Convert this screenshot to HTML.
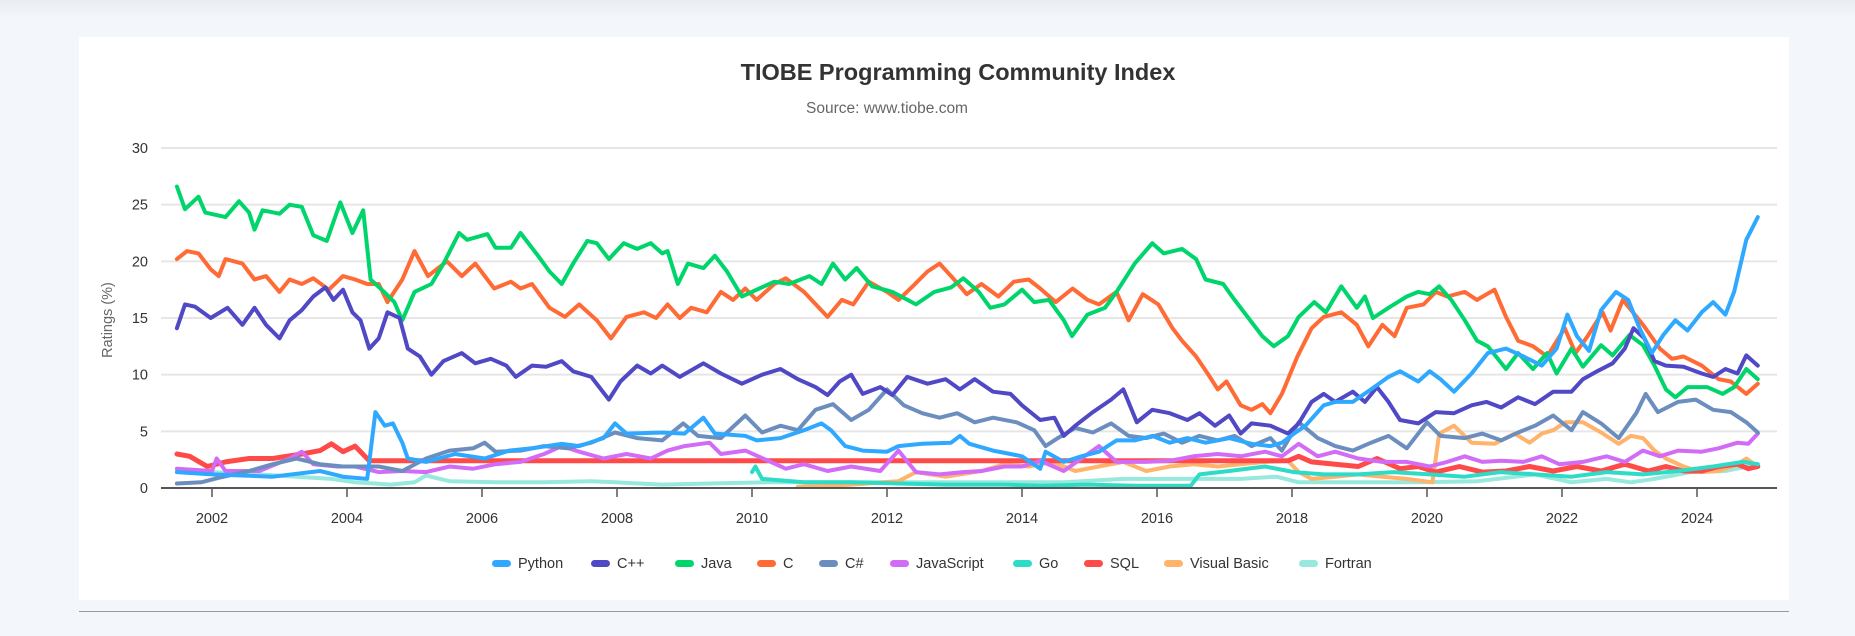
<!DOCTYPE html>
<html><head><meta charset="utf-8"><style>
html,body{margin:0;padding:0;width:1855px;height:636px;overflow:hidden;background:#f3f6fa;font-family:"Liberation Sans",sans-serif}
.card{position:absolute;left:79px;top:37px;width:1710px;height:563px;background:#fff}
.topshade{position:absolute;left:0;top:0;width:1855px;height:18px;background:linear-gradient(#e9edf2,#f3f6fa)}
.rule{position:absolute;left:79px;top:611px;width:1710px;height:1px;background:#9a9a9a}
</style></head><body>
<div class="topshade"></div>
<div class="card"></div>
<div class="rule"></div>
<svg id="chart" width="1855" height="636" style="position:absolute;left:0;top:0">
<text x="958" y="80" text-anchor="middle" font-size="23.5" font-weight="bold" fill="#333">TIOBE Programming Community Index</text>
<text x="887" y="113" text-anchor="middle" font-size="15.5" fill="#666">Source: www.tiobe.com</text>
<text transform="translate(112,320) rotate(-90)" text-anchor="middle" font-size="14.5" fill="#666">Ratings (%)</text>
<g id="grid"></g><g id="series"></g><g id="axes"></g><g id="legend"></g>
</svg>
<script>
const yTicks=[0,5,10,15,20,25,30];
const xTicks=[2002,2004,2006,2008,2010,2012,2014,2016,2018,2020,2022,2024];
const names=["Python","C++","Java","C","C#","JavaScript","Go","SQL","Visual Basic","Fortran"];
const colors=["#2ea9ff","#5048c4","#00d56b","#ff6a35","#6c8ebf","#d26cf7","#2edbc6","#ff4a4a","#ffb36b","#97e8dd"];
const pythonYears=[2001.48,2002.0,2002.9,2003.6,2003.94,2004.3,2004.42,2004.56,2004.68,2004.82,2004.9,2005.17,2005.6,2006.04,2006.4,2006.74,2007.18,2007.44,2007.8,2007.97,2008.14,2008.67,2009.0,2009.28,2009.45,2009.9,2010.07,2010.42,2010.77,2011.03,2011.17,2011.38,2011.64,2012.0,2012.17,2012.52,2012.95,2013.08,2013.22,2013.57,2013.83,2014.0,2014.27,2014.35,2014.62,2014.88,2015.14,2015.4,2015.67,2015.93,2016.19,2016.45,2016.72,2017.07,2017.4,2017.68,2017.85,2018.03,2018.2,2018.47,2018.64,2018.9,2019.17,2019.43,2019.6,2019.87,2020.04,2020.2,2020.4,2020.66,2020.9,2021.17,2021.43,2021.7,2021.92,2022.08,2022.22,2022.4,2022.58,2022.8,2022.98,2023.15,2023.33,2023.5,2023.68,2023.86,2024.07,2024.24,2024.42,2024.55,2024.73,2024.9];
const pythonValues=[1.4,1.2,1.0,1.5,1.0,0.8,6.7,5.5,5.7,4.0,2.6,2.3,3.0,2.6,3.3,3.5,3.9,3.7,4.4,5.7,4.8,4.9,4.8,6.2,4.8,4.6,4.2,4.4,5.1,5.7,5.1,3.7,3.3,3.2,3.7,3.9,4.0,4.6,3.9,3.3,3.0,2.8,1.7,3.2,2.3,2.8,3.2,4.2,4.2,4.6,4.0,4.4,4.0,4.4,3.9,3.7,4.0,4.8,5.5,7.3,7.6,7.6,8.7,9.8,10.3,9.4,10.3,9.6,8.5,10.1,11.9,12.3,11.6,10.8,12.3,15.3,13.4,12.1,15.7,17.3,16.6,14.1,11.9,13.5,14.8,13.9,15.5,16.4,15.3,17.3,21.9,23.9];
const cppYears=[2001.48,2001.6,2001.75,2001.98,2002.23,2002.45,2002.63,2002.8,2003.0,2003.15,2003.33,2003.5,2003.68,2003.8,2003.94,2004.08,2004.2,2004.33,2004.47,2004.6,2004.78,2004.9,2005.08,2005.25,2005.43,2005.7,2005.9,2006.13,2006.36,2006.5,2006.74,2006.95,2007.18,2007.35,2007.62,2007.88,2008.05,2008.3,2008.5,2008.67,2008.93,2009.28,2009.54,2009.85,2010.15,2010.42,2010.68,2010.94,2011.12,2011.3,2011.47,2011.64,2011.9,2012.08,2012.3,2012.6,2012.87,2013.08,2013.3,2013.57,2013.83,2014.0,2014.27,2014.48,2014.62,2014.79,2015.05,2015.32,2015.5,2015.7,2015.93,2016.19,2016.45,2016.63,2016.86,2017.07,2017.24,2017.4,2017.68,2017.94,2018.1,2018.29,2018.47,2018.64,2018.9,2019.08,2019.26,2019.43,2019.6,2019.87,2020.13,2020.4,2020.66,2020.88,2021.1,2021.35,2021.6,2021.87,2022.14,2022.31,2022.52,2022.75,2022.93,2023.06,2023.22,2023.37,2023.54,2023.8,2024.07,2024.24,2024.42,2024.6,2024.73,2024.9];
const cppValues=[14.1,16.2,16.0,15.0,15.9,14.4,15.9,14.4,13.2,14.8,15.7,16.9,17.7,16.6,17.5,15.5,14.8,12.3,13.2,15.5,15.0,12.3,11.6,10.0,11.2,11.9,11.0,11.4,10.8,9.8,10.8,10.7,11.2,10.3,9.8,7.8,9.4,10.8,10.1,10.8,9.8,11.0,10.1,9.2,10.0,10.5,9.6,8.9,8.2,9.4,10.0,8.3,8.9,8.2,9.8,9.2,9.6,8.7,9.6,8.5,8.3,7.3,6.0,6.2,4.6,5.5,6.7,7.8,8.7,5.8,6.9,6.6,6.0,6.6,5.5,6.4,4.8,5.7,5.5,4.8,5.7,7.6,8.3,7.6,8.5,7.6,8.9,7.6,6.0,5.7,6.7,6.6,7.3,7.6,7.1,8.0,7.4,8.5,8.5,9.6,10.3,11.0,12.3,14.1,13.2,11.2,10.8,10.7,10.1,9.8,10.5,10.1,11.7,10.8];
const javaYears=[2001.48,2001.6,2001.8,2001.9,2002.2,2002.4,2002.55,2002.63,2002.75,2003.0,2003.15,2003.33,2003.5,2003.7,2003.9,2004.08,2004.24,2004.35,2004.55,2004.7,2004.82,2005.0,2005.25,2005.43,2005.66,2005.78,2006.08,2006.2,2006.43,2006.57,2006.83,2007.0,2007.18,2007.35,2007.56,2007.7,2007.88,2008.1,2008.3,2008.5,2008.67,2008.75,2008.9,2009.05,2009.28,2009.45,2009.63,2009.85,2010.07,2010.33,2010.55,2010.85,2011.03,2011.2,2011.38,2011.55,2011.78,2012.08,2012.43,2012.7,2012.95,2013.13,2013.36,2013.53,2013.74,2014.0,2014.18,2014.4,2014.62,2014.74,2014.97,2015.23,2015.4,2015.67,2015.93,2016.1,2016.37,2016.58,2016.72,2016.98,2017.15,2017.38,2017.56,2017.73,2017.94,2018.1,2018.33,2018.5,2018.73,2018.96,2019.08,2019.2,2019.43,2019.7,2019.87,2020.04,2020.18,2020.36,2020.56,2020.74,2020.9,2021.17,2021.35,2021.57,2021.78,2021.92,2022.14,2022.31,2022.58,2022.75,2023.0,2023.2,2023.37,2023.54,2023.68,2023.86,2024.15,2024.38,2024.55,2024.73,2024.9];
const javaValues=[26.6,24.6,25.7,24.3,23.9,25.3,24.3,22.8,24.5,24.2,25.0,24.8,22.3,21.8,25.2,22.5,24.5,18.4,17.3,16.4,14.8,17.3,18.0,19.8,22.5,21.9,22.4,21.2,21.2,22.5,20.5,19.1,18.0,19.8,21.8,21.6,20.2,21.6,21.1,21.6,20.7,20.9,18.0,19.8,19.4,20.5,19.1,16.9,17.5,18.2,18.0,18.7,18.0,19.8,18.4,19.4,17.8,17.3,16.2,17.3,17.7,18.5,17.3,15.9,16.2,17.5,16.4,16.6,14.8,13.4,15.3,15.9,17.3,19.8,21.6,20.7,21.1,20.2,18.4,18.0,16.6,14.8,13.4,12.5,13.4,15.1,16.4,15.5,17.8,15.9,16.9,15.0,15.9,16.9,17.3,17.1,17.8,16.6,14.8,13.0,12.5,10.5,11.9,10.5,11.9,10.1,12.3,10.7,12.6,11.7,13.5,12.6,10.8,8.7,8.0,8.9,8.9,8.3,8.9,10.5,9.6];
const cYears=[2001.48,2001.63,2001.8,2001.98,2002.1,2002.2,2002.45,2002.63,2002.8,2003.0,2003.15,2003.33,2003.5,2003.73,2003.94,2004.12,2004.3,2004.47,2004.6,2004.82,2005.0,2005.2,2005.48,2005.7,2005.9,2006.18,2006.43,2006.57,2006.74,2007.0,2007.23,2007.44,2007.7,2007.91,2008.14,2008.4,2008.58,2008.75,2008.93,2009.1,2009.33,2009.54,2009.72,2009.9,2010.07,2010.33,2010.5,2010.77,2011.12,2011.33,2011.5,2011.73,2012.0,2012.17,2012.38,2012.6,2012.78,2012.95,2013.18,2013.4,2013.65,2013.88,2014.1,2014.27,2014.5,2014.75,2014.97,2015.14,2015.4,2015.58,2015.79,2016.02,2016.23,2016.37,2016.58,2016.75,2016.9,2017.03,2017.24,2017.4,2017.56,2017.68,2017.85,2018.08,2018.29,2018.47,2018.73,2018.96,2019.13,2019.34,2019.52,2019.7,2019.95,2020.13,2020.3,2020.56,2020.74,2021.0,2021.17,2021.35,2021.57,2021.78,2022.04,2022.2,2022.38,2022.6,2022.72,2022.9,2023.2,2023.45,2023.63,2023.8,2024.07,2024.32,2024.5,2024.73,2024.9];
const cValues=[20.2,20.9,20.7,19.3,18.7,20.2,19.8,18.4,18.7,17.3,18.4,18.0,18.5,17.5,18.7,18.4,18.0,18.0,16.4,18.4,20.9,18.7,20.0,18.7,19.8,17.6,18.2,17.6,18.0,15.9,15.1,16.2,14.8,13.2,15.1,15.5,15.0,16.2,15.0,15.9,15.5,17.3,16.6,17.6,16.6,18.0,18.5,17.3,15.1,16.6,16.2,18.2,17.3,16.6,17.8,19.1,19.8,18.7,17.1,18.0,16.9,18.2,18.4,17.6,16.4,17.6,16.6,16.2,17.3,14.8,17.1,16.2,14.1,13.0,11.6,10.1,8.7,9.4,7.3,6.9,7.4,6.6,8.3,11.6,14.1,15.1,15.5,14.4,12.5,14.4,13.4,15.9,16.2,17.3,16.9,17.3,16.6,17.5,15.1,13.0,12.5,11.6,14.1,11.9,13.4,15.5,13.9,16.6,14.4,12.3,11.4,11.6,10.8,9.6,9.4,8.3,9.2];
const csharpYears=[2001.48,2001.84,2002.1,2002.55,2002.9,2003.25,2003.6,2003.94,2004.47,2004.82,2005.17,2005.52,2005.87,2006.04,2006.2,2006.57,2006.92,2007.27,2007.62,2007.97,2008.3,2008.67,2008.98,2009.2,2009.54,2009.9,2010.15,2010.42,2010.68,2010.94,2011.2,2011.47,2011.73,2012.0,2012.25,2012.52,2012.78,2013.04,2013.3,2013.57,2013.92,2014.18,2014.35,2014.53,2014.79,2015.05,2015.32,2015.58,2015.84,2016.1,2016.37,2016.63,2016.9,2017.15,2017.4,2017.68,2017.85,2018.1,2018.38,2018.64,2018.9,2019.17,2019.43,2019.7,2020.0,2020.2,2020.56,2020.82,2021.1,2021.35,2021.6,2021.87,2022.14,2022.31,2022.58,2022.84,2023.1,2023.24,2023.42,2023.72,2023.98,2024.24,2024.5,2024.73,2024.9];
const csharpValues=[0.4,0.5,0.9,1.5,2.1,2.6,2.1,1.9,1.9,1.5,2.6,3.3,3.5,4.0,3.2,3.3,3.7,3.5,4.0,4.9,4.4,4.2,5.7,4.6,4.4,6.4,4.9,5.5,5.1,6.9,7.4,6.0,6.9,8.7,7.3,6.6,6.2,6.6,5.8,6.2,5.8,5.1,3.7,4.4,5.3,4.9,5.7,4.6,4.4,4.8,4.0,4.6,4.2,4.6,3.7,4.4,3.3,5.8,4.4,3.7,3.3,4.0,4.6,3.5,5.8,4.6,4.4,4.8,4.2,4.9,5.5,6.4,5.1,6.7,5.7,4.4,6.6,8.3,6.7,7.6,7.8,6.9,6.7,5.8,4.9];
const jsYears=[2001.48,2002.0,2002.07,2002.2,2002.7,2003.15,2003.33,2003.5,2003.85,2004.12,2004.47,2004.82,2005.17,2005.52,2005.87,2006.2,2006.57,2006.92,2007.18,2007.44,2007.8,2008.14,2008.5,2008.75,2009.0,2009.37,2009.54,2009.9,2010.24,2010.5,2010.77,2011.12,2011.47,2011.9,2012.17,2012.43,2012.78,2013.13,2013.4,2013.74,2014.0,2014.27,2014.62,2014.88,2015.14,2015.4,2015.84,2016.19,2016.54,2016.9,2017.24,2017.6,2017.85,2018.1,2018.38,2018.64,2018.98,2019.34,2019.7,2020.04,2020.3,2020.56,2020.82,2021.1,2021.43,2021.7,2021.96,2022.31,2022.66,2022.93,2023.2,2023.45,2023.72,2024.07,2024.32,2024.6,2024.76,2024.9];
const jsValues=[1.7,1.5,2.6,1.5,1.5,2.6,3.2,2.1,1.9,1.9,1.4,1.5,1.4,1.9,1.7,2.1,2.3,3.0,3.7,3.2,2.6,3.0,2.6,3.3,3.7,4.0,3.0,3.3,2.4,1.7,2.1,1.5,1.9,1.5,3.3,1.4,1.2,1.4,1.5,1.9,1.9,2.4,1.5,2.6,3.7,2.3,2.3,2.4,2.8,3.0,2.8,3.2,2.8,3.9,2.8,3.2,2.6,2.3,2.3,1.9,2.3,2.8,2.3,2.4,2.3,2.8,2.1,2.3,2.8,2.3,3.3,2.8,3.3,3.2,3.5,4.0,3.9,4.8];
const goYears=[2010.0,2010.05,2010.15,2010.77,2011.47,2012.17,2012.87,2013.74,2014.27,2014.97,2015.67,2016.37,2016.5,2016.63,2017.07,2017.6,2018.03,2018.47,2018.98,2019.5,2020.04,2020.56,2021.08,2021.6,2022.14,2022.66,2023.2,2023.72,2024.24,2024.68,2024.9];
const goValues=[1.4,1.9,0.8,0.5,0.5,0.4,0.3,0.3,0.2,0.3,0.2,0.2,0.2,1.2,1.5,1.9,1.4,1.2,1.2,1.4,1.2,1.0,1.4,1.2,1.0,1.4,1.2,1.5,1.9,2.3,2.1];
const sqlYears=[2001.48,2001.67,2001.93,2002.2,2002.55,2002.9,2003.33,2003.6,2003.77,2003.94,2004.12,2004.33,2017.94,2018.1,2018.29,2018.64,2018.98,2019.26,2019.6,2019.87,2020.13,2020.48,2020.82,2021.17,2021.52,2021.87,2022.22,2022.58,2022.93,2023.28,2023.54,2023.8,2024.07,2024.32,2024.6,2024.76,2024.9];
const sqlValues=[3.0,2.8,1.9,2.3,2.6,2.6,3.0,3.3,3.9,3.2,3.7,2.4,2.4,2.8,2.3,2.1,1.9,2.6,1.7,1.9,1.4,1.9,1.4,1.5,1.9,1.5,1.9,1.5,2.1,1.5,1.9,1.5,1.5,1.9,2.1,1.7,1.9];
const vbYears=[2010.68,2011.47,2012.17,2012.43,2012.87,2013.4,2013.74,2014.1,2014.45,2014.79,2015.14,2015.5,2015.84,2016.19,2016.54,2016.9,2017.24,2017.6,2017.94,2018.1,2018.29,2018.64,2018.98,2019.34,2019.7,2020.08,2020.18,2020.4,2020.66,2021.0,2021.3,2021.52,2021.7,2021.87,2022.05,2022.31,2022.58,2022.84,2023.02,2023.2,2023.37,2023.54,2023.8,2024.07,2024.32,2024.6,2024.73,2024.9];
const vbValues=[0.1,0.3,0.6,1.4,1.0,1.5,2.1,1.9,2.3,1.5,1.9,2.3,1.5,1.9,2.1,1.9,2.1,2.3,2.4,1.4,0.8,1.0,1.2,1.0,0.8,0.5,4.8,5.5,4.0,3.9,4.8,4.0,4.8,5.1,5.8,5.8,4.9,3.9,4.6,4.4,3.3,2.6,1.9,1.4,1.5,2.1,2.6,1.9];
const fortranYears=[2001.48,2002.0,2002.7,2003.25,2003.77,2004.12,2004.65,2005.0,2005.17,2005.52,2006.2,2006.92,2007.62,2007.97,2008.67,2009.37,2010.24,2011.12,2012.0,2012.87,2013.74,2014.1,2014.62,2015.5,2016.37,2017.24,2017.77,2018.1,2018.98,2019.87,2020.75,2021.6,2022.14,2022.66,2023.02,2023.37,2023.9,2024.42,2024.9];
const fortranValues=[1.5,1.4,1.2,1.0,0.8,0.5,0.3,0.5,1.1,0.6,0.5,0.5,0.6,0.5,0.3,0.4,0.5,0.5,0.5,0.5,0.5,0.5,0.5,0.8,0.8,0.8,1.0,0.5,0.5,0.5,0.6,1.2,0.5,0.8,0.5,0.8,1.4,1.5,2.1];
const seriesYears=[pythonYears,cppYears,javaYears,cYears,csharpYears,jsYears,goYears,sqlYears,vbYears,fortranYears];
const seriesValues=[pythonValues,cppValues,javaValues,cValues,csharpValues,jsValues,goValues,sqlValues,vbValues,fortranValues];
const drawOrder=[9,8,7,6,5,4,3,2,1,0];
const legendX=[492,591,675,757,819,890,1013,1084,1164,1299];

const NS="http://www.w3.org/2000/svg";
const plotL=161,plotR=1777,y0=488,yPerUnit=11.333;
function xs(year){return 212+(year-2002)*67.5;}
function ys(v){return y0-v*yPerUnit;}
function mk(tag,attrs,parent){const e=document.createElementNS(NS,tag);for(const k in attrs)e.setAttribute(k,attrs[k]);parent.appendChild(e);return e;}
const grid=document.getElementById('grid'),axes=document.getElementById('axes'),ser=document.getElementById('series'),leg=document.getElementById('legend');
yTicks.forEach(t=>{
  if(t>0){const l=mk('line',{x1:plotL,x2:plotR,y1:ys(t),y2:ys(t),stroke:'#e6e6e6','stroke-width':2},grid);
  
  }
  const tx=mk('text',{x:148,y:ys(t)+5,'text-anchor':'end','font-size':14.5,fill:'#333'},axes);tx.textContent=t;
  
  
});
const ax=mk('line',{x1:plotL,x2:plotR,y1:y0,y2:y0,stroke:'#555','stroke-width':2},axes);


xTicks.forEach(yr=>{
  mk('line',{x1:xs(yr),x2:xs(yr),y1:y0,y2:y0+9,stroke:'#555','stroke-width':1.5},axes);
  const tx=mk('text',{x:xs(yr),y:523,'text-anchor':'middle','font-size':14.5,fill:'#333'},axes);tx.textContent=yr;
  
  
});
drawOrder.forEach(i=>{
  const yrs=seriesYears[i],vals=seriesValues[i];
  const pts=yrs.map((y,k)=>xs(y).toFixed(1)+','+ys(vals[k]).toFixed(1)).join(' ');
  const p=mk('polyline',{points:pts,fill:'none',stroke:colors[i],'stroke-width':i===7?5:4,'stroke-linejoin':'round','stroke-linecap':'round'},ser);
  
  
});
names.forEach((n,i)=>{
  const g=mk('g',{},leg);
  
  
  mk('rect',{x:legendX[i],y:560,width:19,height:7,rx:3.5,fill:colors[i]},g);
  const t=mk('text',{x:legendX[i]+26,y:568,'font-size':14.5,fill:'#333'},g);t.textContent=n;
});
</script>
</body></html>
